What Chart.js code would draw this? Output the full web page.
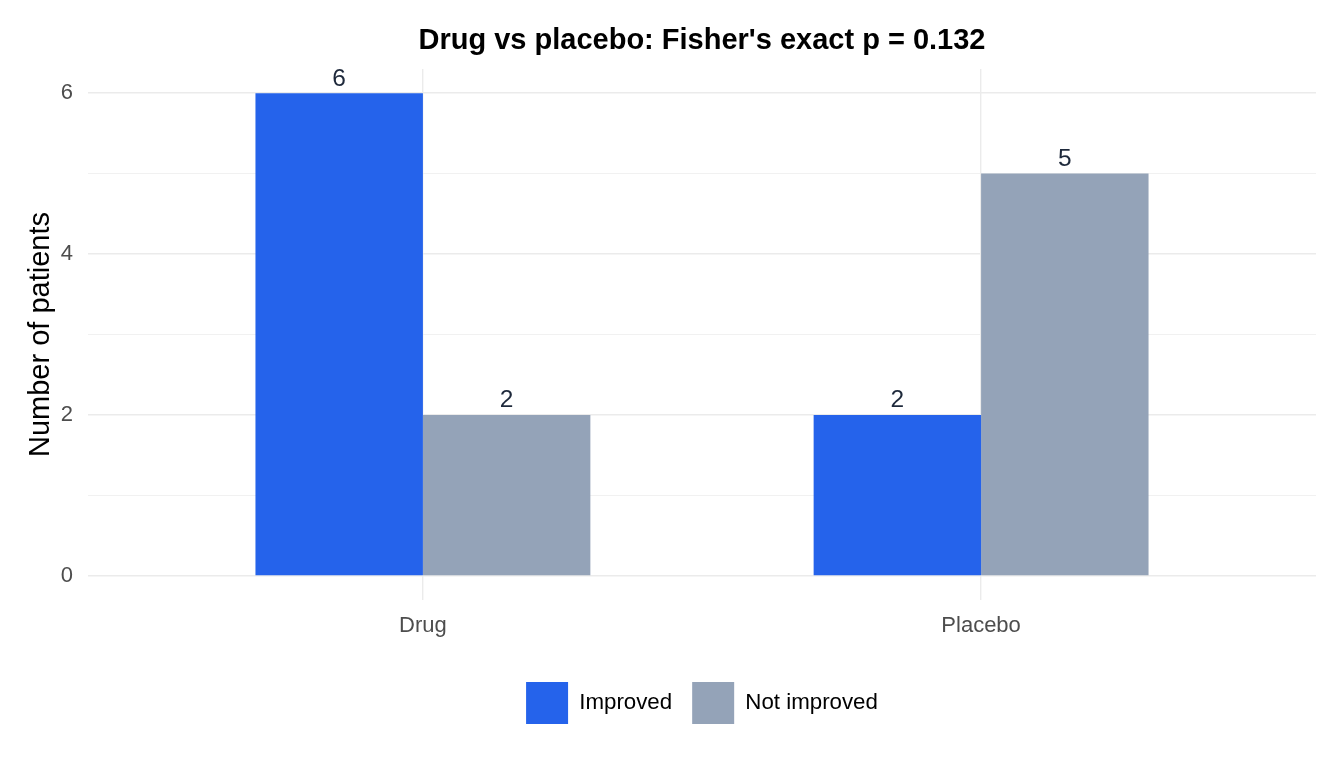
<!DOCTYPE html>
<html>
<head>
<meta charset="utf-8">
<script src="https://cdn.jsdelivr.net/npm/chart.js@4.4.1/dist/chart.umd.min.js"></script>
<style>
  html, body { margin: 0; padding: 0; background: #ffffff; }
  #wrap { width: 1344px; height: 768px; position: relative; }
</style>
</head>
<body>
<div id="wrap"><canvas id="myChart"></canvas></div>
<script>
// data
const groups = ['Drug', 'Placebo'];
const seriesNames = ['Improved', 'Not improved'];
const improved = [6, 2];
const notImproved = [2, 5];
const yTicks = [0, 1, 2, 3, 4, 5, 6];
const yLabelled = [0, 2, 4, 6];

const colors = ['#2563EB', '#94A3B8'];
const FONT = "'Liberation Sans', Arial, sans-serif";

// one point per group, placed at 1, 2, ... on a linear x scale
function toPoints(values) {
    return groups.map((g, i) => ({ x: i + 1, y: values[i] }));
}

// value labels on top of bars, clipped to the panel like ggplot
const barLabels = {
    id: 'barLabels',
    afterDatasetsDraw(chart) {
        const ctx = chart.ctx;
        const area = chart.chartArea;
        ctx.save();
        ctx.beginPath();
        ctx.rect(area.left, area.top, area.right - area.left, area.bottom - area.top);
        ctx.clip();
        ctx.font = '24.5px ' + FONT;
        ctx.fillStyle = '#1E293B';
        ctx.textAlign = 'center';
        ctx.textBaseline = 'alphabetic';
        chart.data.datasets.forEach((ds, di) => {
            const meta = chart.getDatasetMeta(di);
            meta.data.forEach((bar, i) => {
                ctx.fillText(String(ds.data[i].y), bar.x, bar.y - 7.5);
            });
        });
        ctx.restore();
    }
};

const data = {
    datasets: [{
        label: seriesNames[0],
        data: toPoints(improved),
        backgroundColor: colors[0],
        borderWidth: 0
    }, {
        label: seriesNames[1],
        data: toPoints(notImproved),
        backgroundColor: colors[1],
        borderWidth: 0
    }]
};

const config = {
    type: 'bar',
    data,
    plugins: [barLabels],
    options: {
        responsive: true,
        maintainAspectRatio: false,
        animation: false,
        layout: { padding: { left: 0, right: 28, top: 0, bottom: 34 } },
        categoryPercentage: 0.6,
        barPercentage: 1.0,
        scales: {
            x: {
                type: 'linear',
                min: 0.4,
                max: 2.6,
                offset: false,
                afterBuildTicks: (scale) => {
                    scale.ticks = groups.map((g, i) => ({ value: i + 1 }));
                },
                afterFit: (scale) => { scale.height = 62; },
                border: { display: false },
                grid: {
                    offset: false,
                    drawTicks: false,
                    color: '#EBEBEB',
                    lineWidth: 1.4
                },
                ticks: {
                    padding: 13,
                    color: '#4D4D4D',
                    font: { family: FONT, size: 22 },
                    callback: (v) => groups[Math.round(v) - 1]
                }
            },
            y: {
                min: -0.3,
                max: 6.3,
                afterBuildTicks: (scale) => {
                    scale.ticks = yTicks.map(v => ({ value: v }));
                },
                afterFit: (scale) => { scale.width = 88; },
                border: { display: false },
                grid: {
                    drawTicks: false,
                    color: '#EBEBEB',
                    lineWidth: (c) => (yLabelled.includes(c.tick.value) ? 1.4 : 0.7)
                },
                ticks: {
                    padding: 15,
                    color: '#4D4D4D',
                    font: { family: FONT, size: 22 },
                    callback: (v) => (yLabelled.includes(v) ? String(v) : '')
                },
                title: {
                    display: true,
                    text: 'Number of patients',
                    color: '#000000',
                    font: { family: FONT, size: 29 },
                    padding: { top: 23.5, bottom: 0 }
                }
            }
        },
        plugins: {
            title: {
                display: true,
                fullSize: false,
                text: "Drug vs placebo: Fisher's exact p = 0.132",
                color: '#000000',
                font: { family: FONT, size: 29, weight: 'bold' },
                padding: { top: 23.5, bottom: 10.7 }
            },
            legend: {
                position: 'bottom',
                fullSize: false,
                labels: {
                    boxWidth: 42,
                    boxHeight: 42,
                    padding: 20,
                    color: '#000000',
                    font: { family: FONT, size: 22.3 }
                }
            },
            tooltip: { enabled: false }
        }
    }
};

var myChart = new Chart(
    document.getElementById('myChart'),
    config
);
</script>
</body>
</html>
